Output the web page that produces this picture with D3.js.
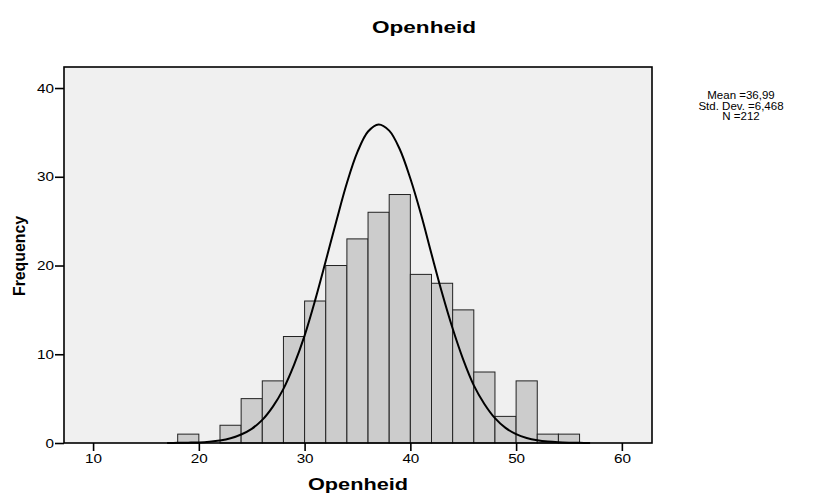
<!DOCTYPE html>
<html>
<head>
<meta charset="utf-8">
<script src="https://cdn.jsdelivr.net/npm/d3@7"></script>
<style>
  body { margin: 0; background: #fff; }
  text { font-family: "Liberation Sans", Arial, sans-serif; fill: #000; }
</style>
</head>
<body>
<div id="chart"></div>
<script>
// histogram bins (lower edge, width 2) and counts
const binStarts = [18, 20, 22, 24, 26, 28, 30, 32, 34, 36, 38, 40, 42, 44, 46, 48, 50, 52, 54];
const binCounts = [1, 0, 2, 5, 7, 12, 16, 20, 23, 26, 28, 19, 18, 15, 8, 3, 7, 1, 1];
const binWidth = 2;

// normal curve
const curveX = [17, 18, 19, 20, 21, 22, 23, 24, 25, 26, 27, 28, 29, 30, 31, 32, 33, 34, 35, 36, 37,
  38, 39, 40, 41, 42, 43, 44, 45, 46, 47, 48, 49, 50, 51, 52, 53, 54, 55, 56, 57];
const curveY = [0, 0.02, 0.04, 0.07, 0.15, 0.29, 0.54, 0.96, 1.6, 2.6, 4.1, 6.1, 8.8, 12.1, 16.1, 20.5,
  25.0, 29.3, 32.8, 35.1, 35.9, 35.2, 33.1, 29.8, 25.8, 21.3, 16.9, 12.9, 9.4, 6.5, 4.4, 2.8, 1.7,
  1.0, 0.57, 0.31, 0.16, 0.08, 0.04, 0.02, 0];

const xTicks = [10, 20, 30, 40, 50, 60];
const yTicks = [0, 10, 20, 30, 40];
const statLines = ["Mean =36,99", "Std. Dev. =6,468", "N =212"];

const width = 815, height = 493;
const margin = { top: 67, right: 163, bottom: 50, left: 64 };
const innerW = width - margin.left - margin.right;
const innerH = height - margin.top - margin.bottom;

const svg = d3.select("#chart").append("svg")
  .attr("width", width)
  .attr("height", height);

const g = svg.append("g")
  .attr("transform", `translate(${margin.left},${margin.top})`);

const x = d3.scaleLinear().domain([7.25, 62.85]).range([0, innerW]);
const y = d3.scaleLinear().domain([0, 42.37]).range([innerH, 0]);

// plot background
g.append("rect")
  .attr("width", innerW)
  .attr("height", innerH)
  .attr("fill", "#f0f0f0");

// bars
g.selectAll("rect.bar")
  .data(binStarts.map((s, i) => ({ start: s, count: binCounts[i] })).filter(d => d.count > 0))
  .join("rect")
  .attr("class", "bar")
  .attr("x", d => x(d.start))
  .attr("y", d => y(d.count))
  .attr("width", d => x(d.start + binWidth) - x(d.start))
  .attr("height", d => y(0) - y(d.count))
  .attr("fill", "#cccccc")
  .attr("stroke", "#222")
  .attr("stroke-width", 1);

// normal curve
g.append("path")
  .datum(curveX.map((v, i) => [v, curveY[i]]))
  .attr("d", d3.line()
    .x(d => x(d[0]))
    .y(d => y(d[1]))
    .curve(d3.curveCatmullRom))
  .attr("fill", "none")
  .attr("stroke", "#000")
  .attr("stroke-width", 2);

// frame
g.append("rect")
  .attr("width", innerW)
  .attr("height", innerH)
  .attr("fill", "none")
  .attr("stroke", "#000")
  .attr("stroke-width", 1.6);

// axes
const xAxis = g.append("g")
  .attr("transform", `translate(0,${innerH})`)
  .call(d3.axisBottom(x).tickValues(xTicks).tickSize(8).tickSizeOuter(0).tickPadding(3));
const yAxis = g.append("g")
  .call(d3.axisLeft(y).tickValues(yTicks).tickSize(9).tickSizeOuter(0).tickPadding(1));

// SPSS text is a bit wider than plain Arial, so stretch it
function widen(sel, k) {
  sel.each(function () {
    const w = this.getComputedTextLength();
    d3.select(this).attr("textLength", w * k).attr("lengthAdjust", "spacingAndGlyphs");
  });
}

[xAxis, yAxis].forEach(a => {
  a.select(".domain").remove();
  a.selectAll(".tick line").attr("stroke", "#000").attr("stroke-width", 1.6);
  a.selectAll(".tick text")
    .style("font-family", "'Liberation Sans', Arial, sans-serif")
    .style("font-size", "12.5px")
    .attr("fill", "#000")
    .call(widen, 1.22);
});

// title
svg.append("text")
  .attr("x", 424)
  .attr("y", 33)
  .attr("text-anchor", "middle")
  .style("font-size", "16px")
  .style("font-weight", "bold")
  .attr("textLength", 104)
  .attr("lengthAdjust", "spacingAndGlyphs")
  .text("Openheid");

// x axis label
svg.append("text")
  .attr("x", margin.left + innerW / 2)
  .attr("y", 490)
  .attr("text-anchor", "middle")
  .style("font-size", "16px")
  .style("font-weight", "bold")
  .attr("textLength", 100)
  .attr("lengthAdjust", "spacingAndGlyphs")
  .text("Openheid");

// y axis label
svg.append("text")
  .attr("transform", `translate(25,${margin.top + innerH / 2 + 1}) rotate(-90)`)
  .attr("text-anchor", "middle")
  .style("font-size", "17px")
  .style("font-weight", "bold")
  .attr("textLength", 80)
  .attr("lengthAdjust", "spacingAndGlyphs")
  .text("Frequency");

// statistics box
svg.append("text")
  .attr("x", 741)
  .attr("y", 99)
  .attr("text-anchor", "middle")
  .style("font-size", "11.5px")
  .selectAll("tspan")
  .data(statLines)
  .join("tspan")
  .attr("x", 741)
  .attr("dy", (d, i) => i === 0 ? 0 : 10.5)
  .text(d => d);
</script>
</body>
</html>
